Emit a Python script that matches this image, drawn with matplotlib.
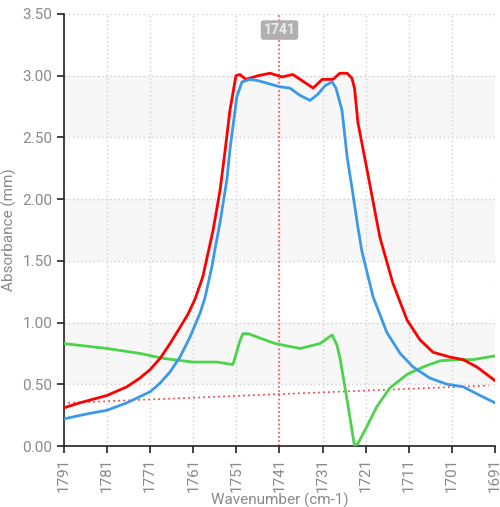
import matplotlib
matplotlib.use("Agg")
import matplotlib.pyplot as plt

# spectra (wavenumber, absorbance)
red_x = [1791, 1787.3, 1781, 1776.4, 1773.4, 1771, 1768.7, 1766.4, 1764.1, 1762.2,
         1760.6, 1758.8, 1756.4, 1754.8, 1753.6, 1752.5, 1751.1, 1750.2, 1748.8, 1746,
         1743.2, 1740.4, 1737.9, 1733.2, 1731.1, 1728.6, 1727, 1725.3, 1724.2, 1723.6,
         1722.8, 1720.7, 1718.8, 1717.7, 1714.7, 1711.4, 1708.4, 1705.4, 1701.4, 1698.4,
         1695.2, 1691]
red_y = [0.31, 0.35, 0.41, 0.48, 0.55, 0.62, 0.71, 0.83, 0.96, 1.07,
         1.19, 1.37, 1.75, 2.07, 2.40, 2.72, 3.00, 3.01, 2.97, 3.00,
         3.02, 2.99, 3.01, 2.90, 2.97, 2.97, 3.02, 3.02, 2.98, 2.90,
         2.62, 2.24, 1.89, 1.69, 1.32, 1.02, 0.86, 0.76, 0.72, 0.70,
         0.64, 0.53]

blue_x = [1791, 1785.7, 1781, 1776.4, 1773.4, 1771, 1768.7, 1766.4, 1764.1, 1761.8,
          1759.4, 1758.3, 1756.7, 1756, 1754.8, 1753.2, 1752.5, 1750.9, 1749.7, 1747.8,
          1746, 1740.9, 1738.6, 1736.2, 1733.9, 1732.1, 1730.4, 1728.8, 1727.9, 1726.5,
          1725.3, 1724, 1722.8, 1721.9, 1719.3, 1716.1, 1713, 1710, 1706.1, 1702.1,
          1698.4, 1694.5, 1691]
blue_y = [0.22, 0.26, 0.29, 0.35, 0.40, 0.44, 0.51, 0.60, 0.72, 0.88,
          1.08, 1.20, 1.45, 1.59, 1.81, 2.16, 2.40, 2.83, 2.95, 2.97,
          2.96, 2.91, 2.90, 2.84, 2.80, 2.85, 2.92, 2.95, 2.90, 2.72,
          2.34, 2.05, 1.77, 1.58, 1.21, 0.92, 0.75, 0.64, 0.55, 0.50,
          0.48, 0.41, 0.35]

green_x = [1791, 1781, 1773.4, 1768, 1761.1, 1755.5, 1751.8, 1750.2, 1749.5, 1748.3,
           1742, 1736.2, 1731.6, 1728.8, 1727.7, 1727, 1725.3, 1723.6, 1722.8, 1720.7,
           1718.4, 1715.4, 1711.4, 1707.7, 1703.8, 1699.8, 1696.1, 1691]
green_y = [0.83, 0.79, 0.75, 0.71, 0.68, 0.68, 0.66, 0.85, 0.91, 0.91,
           0.83, 0.79, 0.83, 0.90, 0.82, 0.72, 0.37, 0.00, 0.02, 0.16,
           0.32, 0.47, 0.58, 0.64, 0.69, 0.70, 0.70, 0.73]

base_x = [1790, 1692.5]
base_y = [0.35, 0.49]

marker_x = 1741
x_ticks = [1791, 1781, 1771, 1761, 1751, 1741, 1731, 1721, 1711, 1701, 1691]
y_ticks = [0.0, 0.5, 1.0, 1.5, 2.0, 2.5, 3.0, 3.5]

plt.rcParams['font.family'] = ['Roboto', 'DejaVu Sans']
grey = '#8a8a8a'

fig = plt.figure(figsize=(5.0, 5.07), dpi=100)
ax = fig.add_axes([0.128, 0.1203, 0.862, 0.8521])

# alternating bands
for lo in (0.5, 1.5, 2.5):
    ax.axhspan(lo, lo + 0.5, color='#f7f7f7', zorder=0, lw=0)

ax.grid(True, color='#cfcfcf', linestyle=(0, (1, 2)), linewidth=1, zorder=1)

ax.plot(base_x, base_y, color='#ff3030', linestyle=(0, (1, 2)), linewidth=1.2, zorder=2)
ax.axvline(marker_x, color='#ff5050', linestyle=(0, (1, 1.5)), linewidth=1.2, zorder=2)

ax.plot(green_x, green_y, color='#4cd34c', linewidth=2, zorder=3)
ax.plot(red_x, red_y, color='#ff0000', linewidth=2, zorder=4)
ax.plot(blue_x, blue_y, color='#3a9ae8', linewidth=2, zorder=5)

ax.text(marker_x, 3.37, str(marker_x), ha='center', va='center', fontsize=10,
        color='#ececec', fontweight='bold', zorder=6,
        bbox=dict(boxstyle='round,pad=0.2', fc='#b0b0b0', ec='none'))

ax.set_xlim(1791, 1691)
ax.set_ylim(0, 3.5)
ax.set_xticks(x_ticks)
ax.set_yticks(y_ticks)
ax.set_yticklabels([f'{v:.2f}' for v in y_ticks])
ax.tick_params(axis='x', rotation=90)
ax.tick_params(direction='out', length=5, width=1.2, color='#222222',
               labelcolor=grey, labelsize=11)

for s in ('top', 'right'):
    ax.spines[s].set_visible(False)
for s in ('left', 'bottom'):
    ax.spines[s].set_color('#222222')
    ax.spines[s].set_linewidth(1.2)

ax.set_xlabel('Wavenumber (cm-1)', color=grey, fontsize=11, labelpad=0)
ax.set_ylabel('Absorbance (mm)', color=grey, fontsize=11, labelpad=4)

fig.savefig('out.png', dpi=100)
